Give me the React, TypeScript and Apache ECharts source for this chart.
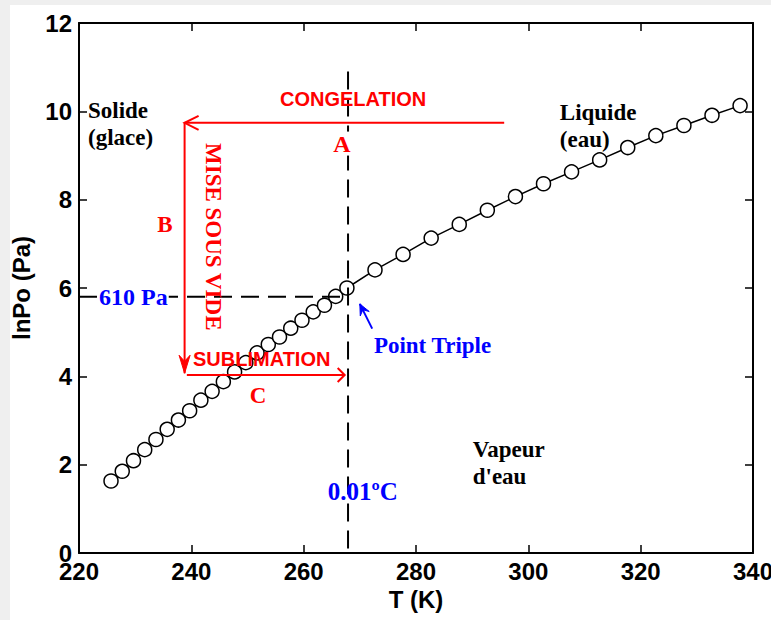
import React, { useEffect, useRef } from "react";
import * as echarts from "echarts";

// ---- DATA ----
const solidT = [225.7, 227.7, 229.7, 231.7, 233.7, 235.7, 237.7, 239.7, 241.7, 243.7, 245.7, 247.7, 249.7, 251.7, 253.7, 255.7, 257.7, 259.7, 261.7, 263.7, 265.7, 267.7];
const solidLnP = [1.63, 1.85, 2.09, 2.34, 2.57, 2.8, 3.01, 3.22, 3.46, 3.66, 3.88, 4.1, 4.31, 4.53, 4.72, 4.89, 5.09, 5.27, 5.46, 5.61, 5.81, 6.0];
const liquidT = [272.7, 277.7, 282.7, 287.7, 292.7, 297.7, 302.7, 307.7, 312.7, 317.7, 322.7, 327.7, 332.7, 337.7];
const liquidLnP = [6.41, 6.76, 7.13, 7.44, 7.76, 8.07, 8.36, 8.63, 8.9, 9.18, 9.45, 9.68, 9.91, 10.13];

const xMin = 220;
const xMax = 340;
const xStep = 20;
const yMin = 0;
const yMax = 12;
const yStep = 2;

// annotation geometry (data coordinates)
const triplePointT = 267.9;
const tripleLineTop = 10.9;
const lnP610 = 5.8;
const congelationLine = [[295.7, 9.74], [238.8, 9.74]];
const vacuumLine = [[238.8, 9.74], [238.8, 4.07]];
const sublimationLine = [[239.2, 4.03], [267.3, 4.03]];
const tripleArrow = [[272.2, 5.08], [270.0, 5.64]];

const serifLabels = [
  { text: "Solide", at: [221.6, 10.02], color: "#000000", align: "left", size: 23 },
  { text: "(glace)", at: [221.6, 9.41], color: "#000000", align: "left", size: 23 },
  { text: "Liquide", at: [305.6, 9.98], color: "#000000", align: "left", size: 23 },
  { text: "(eau)", at: [305.6, 9.37], color: "#000000", align: "left", size: 23 },
  { text: "Vapeur", at: [290.1, 2.34], color: "#000000", align: "left", size: 23 },
  { text: "d'eau", at: [290.1, 1.73], color: "#000000", align: "left", size: 23 },
  { text: "Point Triple", at: [272.5, 4.7], color: "#0000ff", align: "left", size: 23 },
  { text: "0.01ºC", at: [264.3, 1.39], color: "#0000ff", align: "left", size: 25 },
  { text: "B", at: [235.3, 7.43], color: "#ff0000", align: "center", size: 23 },
  { text: "C", at: [251.9, 3.56], color: "#ff0000", align: "center", size: 23 },
];
const boxedLabels = [
  { text: "610 Pa", at: [223.4, 5.8], color: "#0000ff", align: "left" },
  { text: "A", at: [266.8, 9.27], color: "#ff0000", align: "center" },
];
const sansLabels = [
  { text: "CONGELATION", at: [268.8, 10.28], align: "center" },
  { text: "SUBLIMATION", at: [240.3, 4.4], align: "left" },
];
const verticalLabel = { text: "MISE SOUS VIDE", at: [243.9, 7.16] };

const axisFont = { fontFamily: "Liberation Sans", fontWeight: "bold", fontSize: 24, color: "#000" };

export default function App() {
  const ref = useRef<HTMLDivElement>(null);

  useEffect(() => {
    if (!ref.current) return;
    const chart = echarts.init(ref.current, undefined, { renderer: "svg" });

    const points = solidT.map((t, i) => [t, solidLnP[i]]).concat(liquidT.map((t, i) => [t, liquidLnP[i]]));

    const renderAnnotations = (_params: any, api: any) => {
      const c = (d: number[]) => api.coord(d);
      const children: any[] = [];
      const dash = [18, 9];
      const seg = (a: number[], b: number[], stroke: string, width: number, lineDash?: number[]) => {
        const pa = c(a);
        const pb = c(b);
        children.push({
          type: "line",
          shape: { x1: pa[0], y1: pa[1], x2: pb[0], y2: pb[1] },
          style: { stroke, lineWidth: width, lineDash: lineDash || null, fill: null },
        });
        return [pa, pb];
      };
      // dashed guides
      seg([triplePointT, tripleLineTop], [triplePointT, yMin], "#000", 2, dash);
      seg([xMin, lnP610], [triplePointT, lnP610], "#000", 2, dash);

      // red process lines
      const [, cEnd] = seg(congelationLine[0], congelationLine[1], "#ff0000", 2);
      children.push({
        type: "polyline",
        shape: { points: [[cEnd[0] + 14, cEnd[1] - 7], [cEnd[0], cEnd[1]], [cEnd[0] + 14, cEnd[1] + 7]] },
        style: { stroke: "#ff0000", lineWidth: 2, fill: null },
      });
      const [, vEnd] = seg(vacuumLine[0], vacuumLine[1], "#ff0000", 2);
      children.push({
        type: "polygon",
        shape: { points: [[vEnd[0], vEnd[1]], [vEnd[0] - 5.5, vEnd[1] - 18], [vEnd[0], vEnd[1] - 12], [vEnd[0] + 5.5, vEnd[1] - 18]] },
        style: { fill: "#ff0000", stroke: "#ff0000", lineWidth: 1 },
      });
      const [, sEnd] = seg(sublimationLine[0], sublimationLine[1], "#ff0000", 2);
      children.push({
        type: "polyline",
        shape: { points: [[sEnd[0] - 7, sEnd[1] - 7], [sEnd[0], sEnd[1]], [sEnd[0] - 7, sEnd[1] + 7]] },
        style: { stroke: "#ff0000", lineWidth: 2, fill: null },
      });

      // blue arrow to triple point
      const [aStart, aEnd] = seg(tripleArrow[0], tripleArrow[1], "#0000ff", 2);
      const dx = aEnd[0] - aStart[0];
      const dy = aEnd[1] - aStart[1];
      const len = Math.sqrt(dx * dx + dy * dy) || 1;
      const ux = dx / len;
      const uy = dy / len;
      const L = 11;
      const W = 5;
      children.push({
        type: "polygon",
        shape: {
          points: [
            [aEnd[0], aEnd[1]],
            [aEnd[0] - ux * L - uy * W, aEnd[1] - uy * L + ux * W],
            [aEnd[0] - ux * L * 0.6, aEnd[1] - uy * L * 0.6],
            [aEnd[0] - ux * L + uy * W, aEnd[1] - uy * L - ux * W],
          ],
        },
        style: { fill: "#0000ff", stroke: "#0000ff", lineWidth: 1 },
      });

      // texts
      serifLabels.forEach((l) => {
        const p = c(l.at);
        children.push({
          type: "text",
          x: p[0],
          y: p[1],
          style: {
            text: l.text,
            fill: l.color,
            fontFamily: "Liberation Serif",
            fontWeight: "bold",
            fontSize: l.size,
            align: l.align,
            verticalAlign: "middle",
          },
        });
      });
      boxedLabels.forEach((l) => {
        const p = c(l.at);
        children.push({
          type: "text",
          x: p[0],
          y: p[1],
          style: {
            text: l.text,
            fill: l.color,
            fontFamily: "Liberation Serif",
            fontWeight: "bold",
            fontSize: 24,
            align: l.align,
            verticalAlign: "middle",
            backgroundColor: "#ffffff",
            padding: [0, 1],
          },
        });
      });
      sansLabels.forEach((l) => {
        const p = c(l.at);
        children.push({
          type: "text",
          x: p[0],
          y: p[1],
          style: {
            text: l.text,
            fill: "#ff0000",
            fontFamily: "Liberation Sans",
            fontWeight: "bold",
            fontSize: 20,
            align: l.align,
            verticalAlign: "middle",
          },
        });
      });
      const vp = c(verticalLabel.at);
      children.push({
        type: "text",
        x: vp[0],
        y: vp[1],
        rotation: -Math.PI / 2,
        style: {
          text: verticalLabel.text,
          fill: "#ff0000",
          fontFamily: "Liberation Serif",
          fontWeight: "bold",
          fontSize: 23,
          align: "center",
          verticalAlign: "middle",
        },
      });
      return { type: "group", children };
    };

    const frameAxisX = (position: string, main: boolean) => ({
      type: "value",
      position,
      min: xMin,
      max: xMax,
      interval: xStep,
      axisLine: { show: true, onZero: false, lineStyle: { color: "#000", width: 2 } },
      axisTick: { show: true, inside: true, length: 8, lineStyle: { color: "#000", width: 1.5 } },
      axisLabel: main ? { show: true, margin: 6, ...axisFont } : { show: false },
      splitLine: { show: false },
      name: main ? "T (K)" : "",
      nameLocation: "middle",
      nameGap: 33,
      nameTextStyle: axisFont,
    });
    const frameAxisY = (position: string, main: boolean) => ({
      type: "value",
      position,
      min: yMin,
      max: yMax,
      interval: yStep,
      axisLine: { show: true, onZero: false, lineStyle: { color: "#000", width: 2 } },
      axisTick: { show: true, inside: true, length: 8, lineStyle: { color: "#000", width: 1.5 } },
      axisLabel: main ? { show: true, margin: 7, ...axisFont } : { show: false },
      splitLine: { show: false },
      name: main ? "lnPo (Pa)" : "",
      nameLocation: "middle",
      nameGap: 46,
      nameTextStyle: axisFont,
    });

    chart.setOption({
      animation: false,
      backgroundColor: "#ffffff",
      graphic: [
        { type: "rect", left: 0, top: 0, z: -10, silent: true, shape: { width: 10, height: 620 }, style: { fill: "#efefef" } },
        { type: "rect", left: 0, top: 0, z: -10, silent: true, shape: { width: 771, height: 5 }, style: { fill: "#efefef" } },
      ],
      grid: { left: 79, right: 18, top: 23, bottom: 67, containLabel: false, outerBoundsMode: "none" },
      xAxis: [frameAxisX("bottom", true), frameAxisX("top", false)],
      yAxis: [frameAxisY("left", true), frameAxisY("right", false)],
      series: [
        {
          type: "line",
          xAxisIndex: 0,
          yAxisIndex: 0,
          data: points,
          symbol: "circle",
          symbolSize: 14,
          showSymbol: true,
          lineStyle: { color: "#000", width: 1.5 },
          itemStyle: { color: "#ffffff", borderColor: "#000", borderWidth: 1.5 },
          z: 2,
          silent: true,
        },
        {
          type: "custom",
          xAxisIndex: 0,
          yAxisIndex: 0,
          data: [[xMin, yMin]],
          encode: { x: 0, y: 1 },
          clip: false,
          silent: true,
          z: 3,
          renderItem: renderAnnotations,
        },
      ],
    });

    return () => chart.dispose();
  }, []);

  return (
    <div style={{ position: "fixed", left: 0, top: 0, width: 771, height: 620 }}>
      <div ref={ref} style={{ width: 771, height: 620 }} />
    </div>
  );
}
